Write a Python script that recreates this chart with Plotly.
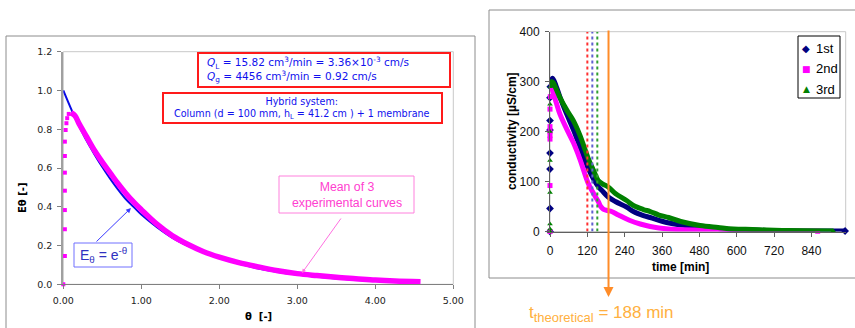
import plotly.graph_objects as go

W, H = 855, 328

# ---------------- data: left panel (dimensionless RTD) ----------------
theta_model = [0.0, 0.1, 0.2, 0.3, 0.4, 0.5, 0.6, 0.7, 0.8, 0.9, 1.0, 1.2, 1.4,
               1.6, 1.8, 2.0, 2.5, 3.0, 3.5, 4.0, 4.5]
E_model = [1.0, 0.905, 0.82, 0.74, 0.67, 0.605, 0.545, 0.49, 0.44, 0.40, 0.36,
           0.295, 0.24, 0.198, 0.163, 0.135, 0.082, 0.05, 0.03, 0.018, 0.011]

theta_rise = [0.0, 0.02, 0.02, 0.02, 0.02, 0.02, 0.02, 0.02, 0.03, 0.04, 0.05, 0.07]
E_rise = [0.0, 0.146, 0.284, 0.383, 0.483, 0.576, 0.662, 0.736, 0.796, 0.831, 0.857, 0.879]

theta_mean = [0.1, 0.15, 0.2, 0.3, 0.4, 0.5, 0.6, 0.7, 0.8, 0.9, 1.0, 1.2, 1.4,
              1.6, 1.8, 2.0, 2.25, 2.5, 2.75, 3.0, 3.25, 3.5, 3.75, 4.0, 4.25, 4.58]
E_mean = [0.885, 0.87, 0.83, 0.76, 0.69, 0.63, 0.575, 0.52, 0.47, 0.425, 0.385,
          0.31, 0.25, 0.205, 0.168, 0.14, 0.112, 0.09, 0.07, 0.055, 0.045, 0.036,
          0.029, 0.022, 0.017, 0.013]

# ---------------- data: right panel (conductivity) ----------------
t1_rise = [0, 0, 0, 0, 0, 0, 0, 1]
c1_rise = [0, 46, 125, 157, 203, 222, 268, 290]
t1 = [4, 8, 14, 22, 32, 53, 75, 96, 123, 140, 155, 170, 187, 210, 246, 268, 300,
      322, 375, 420, 482, 540, 589, 650, 696, 760, 830, 900, 948]
c1 = [300, 307, 300, 287, 269, 236, 204, 170, 126, 105, 90, 80, 69, 60, 49, 40,
      32, 28, 18, 13, 9, 6, 4, 3, 2, 1.5, 1, 1, 1]

t2_rise = [0, 0, 0, 0, 0, 0, 0, 1]
c2_rise = [0, 92, 185, 192, 200, 210, 245, 270]
t2 = [2, 5, 10, 20, 32, 53, 75, 96, 123, 140, 155, 163, 171, 185, 198, 220, 257,
      290, 322, 350, 381, 430, 482, 540, 589, 650, 700, 760, 820, 860]
c2 = [280, 285, 278, 258, 235, 206, 178, 145, 96, 76, 60, 50, 45, 42, 40, 33, 22,
      15, 10, 7, 5, 3.5, 3, 2, 1, 1, 0.5, 0.5, 0.5, 0.5]

t3_rise = [0, 0, 0, 0, 0, 0, 0, 1]
c3_rise = [0, 5, 15, 78, 142, 200, 255, 290]
t3 = [3, 6, 10, 20, 32, 53, 75, 96, 123, 140, 155, 170, 187, 210, 246, 268, 300,
      322, 350, 381, 420, 482, 540, 589, 650, 696, 760, 830, 910]
c3 = [290, 300, 298, 285, 268, 244, 222, 193, 146, 122, 102, 95, 89, 76, 62, 52,
      44, 40, 33, 28, 20, 12, 8, 5, 4, 3, 2, 1.5, 1]

t_dotted = [120, 136, 152]
dotted_colors = ["#ff3030", "#6060d0", "#30a030"]
t_theoretical = 188

x_ticks_left = [0, 1, 2, 3, 4, 5]
x_ticks_right = [0, 120, 240, 360, 480, 600, 720, 840]

NAVY, MAG, GREEN = "#000080", "#ff00ff", "#008000"
ORANGE = "#ff8c28"


def px(x):
    return x / W


def py(y):
    return 1 - y / H


fig = go.Figure()

# left panel traces
fig.add_trace(go.Scatter(x=theta_model, y=E_model, mode="lines", line=dict(color="#0a0ae6", width=2, shape="spline"),
                         xaxis="x", yaxis="y", showlegend=False))
fig.add_trace(go.Scatter(x=theta_rise, y=E_rise, mode="markers", marker=dict(color=MAG, size=4, symbol="square"),
                         xaxis="x", yaxis="y", showlegend=False, cliponaxis=False))
fig.add_trace(go.Scatter(x=theta_mean, y=E_mean, mode="lines", line=dict(color=MAG, width=5.5, shape="spline"),
                         xaxis="x", yaxis="y", showlegend=False))

# right panel traces
for tr, cr, td, cd, col, sym, sz in [
    (t1_rise, c1_rise, t1, c1, NAVY, "diamond", 6),
    (t2_rise, c2_rise, t2, c2, MAG, "square", 5),
    (t3_rise, c3_rise, t3, c3, GREEN, "triangle-up", 5),
]:
    fig.add_trace(go.Scatter(x=tr, y=cr, mode="markers", marker=dict(color=col, size=sz, symbol=sym),
                             xaxis="x2", yaxis="y2", showlegend=False, cliponaxis=False))
    fig.add_trace(go.Scatter(x=td, y=cd, mode="lines", line=dict(color=col, width=5, shape="spline"),
                             xaxis="x2", yaxis="y2", showlegend=False, cliponaxis=False))
    fig.add_trace(go.Scatter(x=td[-1:], y=cd[-1:], mode="markers", marker=dict(color=col, size=sz, symbol=sym),
                             xaxis="x2", yaxis="y2", showlegend=False, cliponaxis=False))

shapes = []
# outer panel frames
shapes.append(dict(type="rect", xref="paper", yref="paper", x0=px(6), x1=px(475), y0=py(340), y1=py(36),
                   line=dict(color="#8c8c8c", width=1), layer="below"))
shapes.append(dict(type="rect", xref="paper", yref="paper", x0=px(489), x1=px(870), y0=py(278), y1=py(10),
                   line=dict(color="#8c8c8c", width=1), layer="below"))
# plot area frames (light)
shapes.append(dict(type="rect", xref="x domain", yref="y domain", x0=0, x1=1, y0=0, y1=1,
                   line=dict(color="#c8c8c8", width=1), layer="below"))
shapes.append(dict(type="rect", xref="x2 domain", yref="y2 domain", x0=0, x1=1, y0=0, y1=1,
                   line=dict(color="#c8c8c8", width=1), layer="below"))
# text boxes left
shapes.append(dict(type="rect", xref="paper", yref="paper", x0=px(198), x1=px(450), y0=py(87), y1=py(53),
                   line=dict(color="#ff1a1a", width=2), fillcolor="white"))
shapes.append(dict(type="rect", xref="paper", yref="paper", x0=px(163), x1=px(442), y0=py(123), y1=py(93),
                   line=dict(color="#ff1a1a", width=2), fillcolor="white"))
shapes.append(dict(type="rect", xref="paper", yref="paper", x0=px(279), x1=px(414), y0=py(213), y1=py(176),
                   line=dict(color="#ff80dd", width=1), fillcolor="white"))
shapes.append(dict(type="rect", xref="paper", yref="paper", x0=px(74), x1=px(132), y0=py(267), y1=py(243),
                   line=dict(color="#7070ff", width=1), fillcolor="white"))
# dotted lines
for td, col in zip(t_dotted, dotted_colors):
    shapes.append(dict(type="line", xref="x2", yref="y2", x0=td, x1=td, y0=0, y1=400,
                       line=dict(color=col, width=2, dash="dot")))
# legend box
shapes.append(dict(type="rect", xref="paper", yref="paper", x0=px(798), x1=px(840), y0=py(98), y1=py(36),
                   line=dict(color="#000000", width=1), fillcolor="white"))

annotations = []
blue_txt = "#1010ee"


def note(x, y, text, font, xanchor="center", yanchor="middle", **kw):
    annotations.append(dict(xref="paper", yref="paper", x=px(x), y=py(y), xanchor=xanchor, yanchor=yanchor,
                            showarrow=False, text=text, font=font, **kw))


note(205, 70, "<i>Q</i><sub>L</sub> = 15.82 cm<sup>3</sup>/min = 3.36×10<sup>-3</sup> cm/s<br>"
              "<i>Q</i><sub>g</sub> = 4456 cm<sup>3</sup>/min = 0.92 cm/s",
     dict(family="DejaVu Sans", size=10.5, color=blue_txt), xanchor="left", align="left")
note(302, 108, "Hybrid system:<br>Column (d = 100 mm, h<sub>L</sub> = 41.2 cm ) + 1 membrane",
     dict(family="DejaVu Sans", size=9.6, color=blue_txt), align="center")
note(346.5, 194.5, "Mean of 3<br>experimental curves",
     dict(family="Liberation Sans", size=12.3, color="#ff40d0"), align="center")
note(103, 255, "E<sub>θ</sub> = e<sup>-θ</sup>", dict(family="Liberation Sans", size=14, color="#3030c0"))
# axis titles
note(22, 198, "<b>Eθ [-]</b>", dict(family="DejaVu Sans", size=10, color="#000"), textangle=-90)
note(258, 316, "<b>θ  [-]</b>", dict(family="DejaVu Sans", size=10, color="#000"))
note(512, 131, "<b>conductivity [µS/cm]</b>", dict(family="Liberation Sans", size=12, color="#000"), textangle=-90)
note(680, 267, "<b>time [min]</b>", dict(family="Liberation Sans", size=12, color="#000"))
note(527, 314, "t<sub><span style=\"font-size:13px\">theoretical</span></sub> = 188 min",
     dict(family="Liberation Sans", size=17, color="#ffb040"), xanchor="left")

# arrows left
annotations.append(dict(xref="paper", yref="paper", x=px(131), y=py(208), ax=95 - 131, ay=243 - 208,
                        text="", showarrow=True, arrowhead=2, arrowsize=1, arrowwidth=1, arrowcolor="#3a3aff"))
annotations.append(dict(xref="paper", yref="paper", x=px(302), y=py(273), ax=342 - 302, ay=217 - 273,
                        text="", showarrow=True, arrowhead=2, arrowsize=0.8, arrowwidth=1, arrowcolor="#ff70e0"))
# orange theoretical line with arrow
annotations.append(dict(xref="x2", yref="paper", x=t_theoretical, y=py(297), ax=0, ay=-268,
                        text="", showarrow=True, arrowhead=2, arrowsize=1, arrowwidth=2, arrowcolor=ORANGE))
# legend entries
for i, (sym, col, name) in enumerate([("◆", NAVY, "1st"), ("■", MAG, "2nd"), ("▲", GREEN, "3rd")]):
    yy = 48 + 20.5 * i
    note(806, yy, sym, dict(family="DejaVu Sans", size=9 if sym != "◆" else 10, color=col))
    note(814, yy, name, dict(family="Liberation Sans", size=13, color="#000"), xanchor="left")

fig.update_layout(
    template="none",
    width=W, height=H, margin=dict(l=0, r=0, t=0, b=0, autoexpand=False),
    paper_bgcolor="white", plot_bgcolor="white",
    shapes=shapes, annotations=annotations, showlegend=False,
    xaxis=dict(domain=[px(63.3), px(453.3)], range=[0, 5], tickvals=x_ticks_left, tickformat=".2f",
               showgrid=False, zeroline=False, showline=True, linecolor="#808080", linewidth=1,
               ticks="outside", ticklen=4, tickcolor="#808080", anchor="y", automargin=False,
               tickfont=dict(family="DejaVu Sans", size=9.5, color="#222"), ticklabelstandoff=3),
    yaxis=dict(domain=[py(284.3), py(51.7)], range=[0, 1.2], dtick=0.2, tickformat=".1f",
               showgrid=False, zeroline=False, showline=True, linecolor="#a0a0a0", linewidth=2,
               ticks="outside", ticklen=4, tickcolor="#808080", anchor="x", automargin=False,
               tickfont=dict(family="DejaVu Sans", size=9.5, color="#222"), ticklabelstandoff=3),
    xaxis2=dict(domain=[px(550), px(845.7)], range=[0, 950], tickvals=x_ticks_right,
                showgrid=False, zeroline=False, showline=True, linecolor="#606060", linewidth=1,
                ticks="outside", ticklen=4, tickcolor="#606060", anchor="y2", automargin=False,
                tickfont=dict(family="Liberation Sans", size=12, color="#111"), ticklabelstandoff=4),
    yaxis2=dict(domain=[py(231.5), py(31.7)], range=[0, 400], dtick=100,
                showgrid=False, zeroline=False, showline=True, linecolor="#606060", linewidth=1,
                ticks="outside", ticklen=4, tickcolor="#606060", anchor="x2", automargin=False,
                tickfont=dict(family="Liberation Sans", size=12, color="#111"), ticklabelstandoff=3),
)

fig.write_html("out.html")
